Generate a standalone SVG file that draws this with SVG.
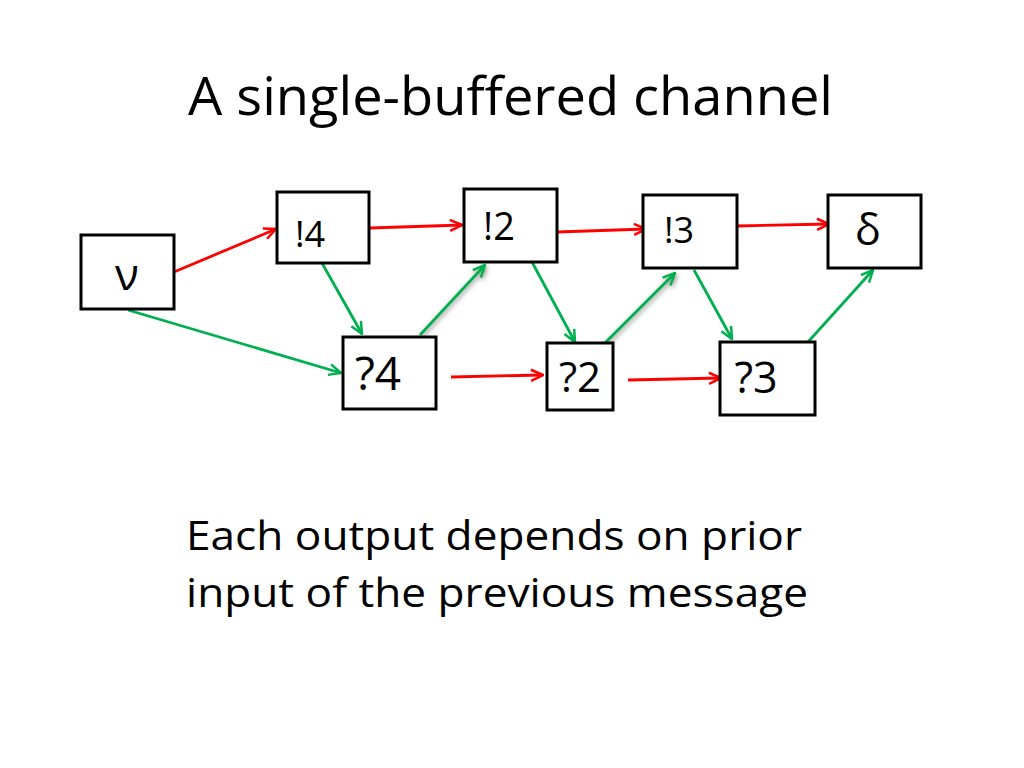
<svg xmlns="http://www.w3.org/2000/svg" width="1024" height="768" viewBox="0 0 1024 768">
<defs>
<marker id="ar" viewBox="0 0 14 14" refX="13" refY="7" markerWidth="14" markerHeight="14" markerUnits="userSpaceOnUse" orient="auto">
<path d="M1,1.5 L13,7 L1,12.5" fill="none" stroke="#FF0000" stroke-width="2.5"/>
</marker>
<marker id="ag" viewBox="0 0 14 14" refX="13" refY="7" markerWidth="14" markerHeight="14" markerUnits="userSpaceOnUse" orient="auto">
<path d="M1,1.5 L13,7 L1,12.5" fill="none" stroke="#00B050" stroke-width="2.5"/>
</marker>
<filter id="sh" x="-30%" y="-30%" width="160%" height="160%">
<feGaussianBlur in="SourceAlpha" stdDeviation="2.5"/>
<feOffset dx="1" dy="2" result="b"/>
<feFlood flood-color="#555" flood-opacity="0.7"/>
<feComposite in2="b" operator="in"/>
<feMerge><feMergeNode/><feMergeNode in="SourceGraphic"/></feMerge>
</filter>
</defs>
<style>
.box{fill:#fff;stroke:#000;stroke-width:3}
.t{font-family:"Open Sans","Liberation Sans",sans-serif;fill:#000;text-anchor:middle}
.r{stroke:#FF0000;stroke-width:2.8;fill:none;marker-end:url(#ar)}
.g{stroke:#00B050;stroke-width:2.8;fill:none;marker-end:url(#ag)}
.h{font-family:"Open Sans","Liberation Sans",sans-serif;fill:#000}
</style>
<rect width="1024" height="768" fill="#fff"/>
<text class="h" x="188" y="115" font-size="53" textLength="645" lengthAdjust="spacingAndGlyphs">A single-buffered channel</text>
<g id="connectors">
<line class="r" x1="174" y1="272" x2="276" y2="229"/>
<line class="g" x1="128" y1="310" x2="341" y2="373"/>
<line class="g" x1="322" y1="263" x2="362" y2="334"/>
<line class="r" x1="370" y1="228" x2="462" y2="225"/>
<line class="r" x1="557" y1="232" x2="646" y2="229"/>
<line class="r" x1="737" y1="226" x2="829" y2="224"/>
<line class="r" x1="451" y1="377" x2="543" y2="375"/>
<line class="r" x1="628" y1="380" x2="721" y2="378"/>
<line class="g" x1="420" y1="335" x2="485" y2="265" filter="url(#sh)"/>
<line class="g" x1="532" y1="262" x2="575" y2="342"/>
<line class="g" x1="603" y1="345" x2="675" y2="273" filter="url(#sh)"/>
<line class="g" x1="694" y1="270" x2="732" y2="339"/>
<line class="g" x1="808" y1="342" x2="873" y2="270"/>
<line x1="316" y1="259" x2="322" y2="263" stroke="#4472C4" stroke-width="1"/>
</g>
<g id="n-nu"><rect class="box" x="81" y="235" width="93" height="74"/><text class="t" x="127" y="290" font-size="44">ν</text></g>
<g id="n-o4"><rect class="box" x="277" y="192" width="92" height="71"/><text class="t" x="310" y="247" font-size="36">!4</text></g>
<g id="n-o2"><rect class="box" x="464" y="189" width="93" height="73"/><text class="t" x="499" y="240" font-size="38">!2</text></g>
<g id="n-o3"><rect class="box" x="643" y="195" width="94" height="73"/><text class="t" x="679" y="243" font-size="36">!3</text></g>
<g id="n-delta"><rect class="box" x="828" y="195" width="93" height="73"/><text class="t" x="868" y="245" font-size="43">δ</text></g>
<g id="n-i4"><rect class="box" x="343" y="337" width="93" height="72"/><text class="t" x="378" y="390" font-size="46">?4</text></g>
<g id="n-i2"><rect class="box" x="547" y="343" width="66" height="67"/><text class="t" x="580" y="392" font-size="42">?2</text></g>
<g id="n-i3"><rect class="box" x="720" y="342" width="95" height="73"/><text class="t" x="756" y="393" font-size="43">?3</text></g>
<text class="h" x="186" y="550" font-size="41" textLength="616" lengthAdjust="spacingAndGlyphs">Each output depends on prior</text>
<text class="h" x="186" y="607" font-size="41" textLength="622" lengthAdjust="spacingAndGlyphs">input of the previous message</text>
</svg>
